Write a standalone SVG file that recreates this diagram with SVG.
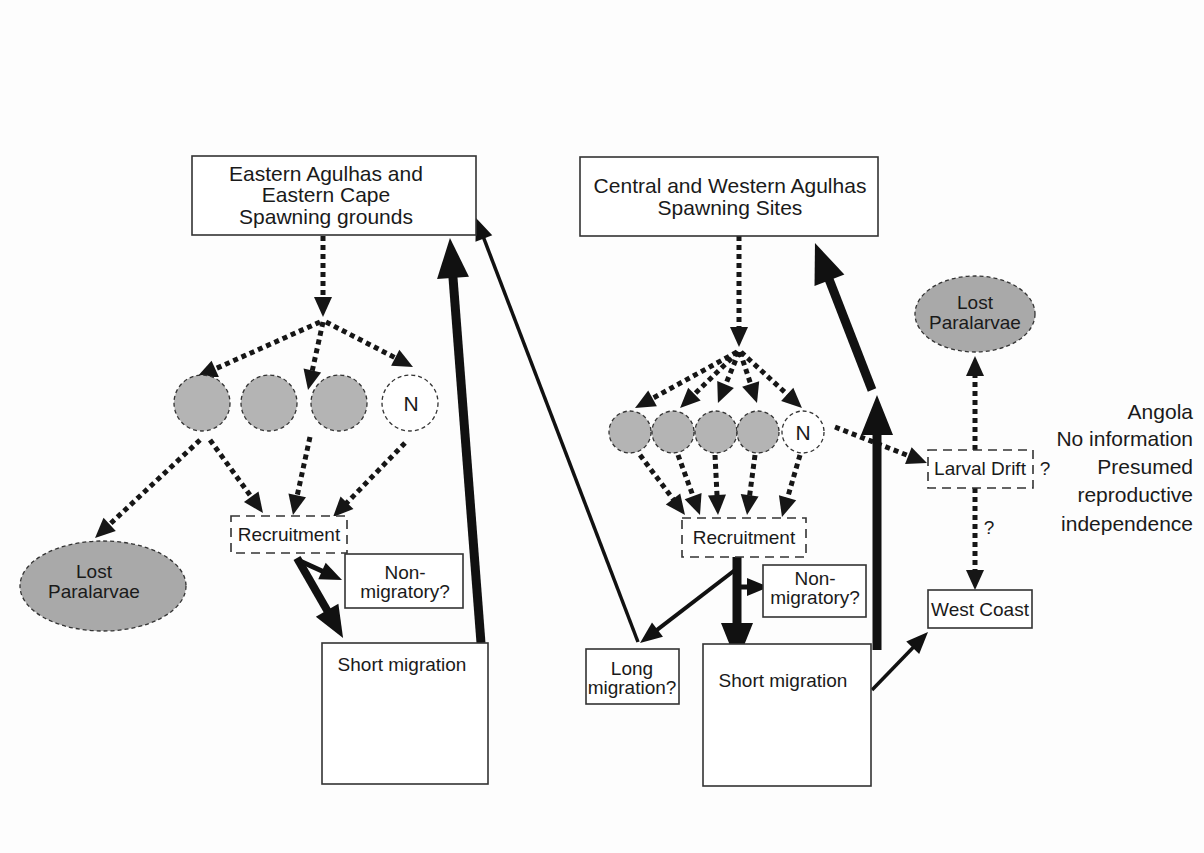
<svg xmlns="http://www.w3.org/2000/svg" width="1204" height="853" viewBox="0 0 1204 853">
<style>
  text { font-family: "Liberation Sans", Arial, sans-serif; fill: #1a1a1a; }
  .t21 { font-size: 21px; text-anchor: middle; }
  .t19 { font-size: 19px; text-anchor: middle; }
  .side { font-size: 21px; text-anchor: end; }
  .box { fill: #ffffff; stroke: #333; stroke-width: 1.6; }
  .dbox { fill: #ffffff; stroke: #333; stroke-width: 1.6; stroke-dasharray: 9 6; }
  .circ { fill: #b4b4b4; stroke: #333; stroke-width: 1.3; stroke-dasharray: 4 3; }
  .ncirc { fill: #ffffff; stroke: #333; stroke-width: 1.3; stroke-dasharray: 4 3; }
  .ell { fill: #a9a9a9; stroke: #333; stroke-width: 1.3; stroke-dasharray: 4 3; }
  .dot { fill: none; stroke: #161616; stroke-width: 5; stroke-dasharray: 5 4; marker-end: url(#hd); }
  .thick { fill: none; stroke: #111; stroke-width: 9; marker-end: url(#hb); }
  .mid { fill: none; stroke: #111; stroke-width: 8; marker-end: url(#hs); }
  .thin { fill: none; stroke: #111; stroke-width: 4; marker-end: url(#hm); }
</style>
<defs>
  <marker id="hd" markerUnits="userSpaceOnUse" markerWidth="20" markerHeight="18" refX="2" refY="9" orient="auto" overflow="visible">
    <path d="M0,0 L20,9 L0,18 z" fill="#161616"/>
  </marker>
  <marker id="hb" markerUnits="userSpaceOnUse" markerWidth="40" markerHeight="32" refX="4" refY="16" orient="auto" overflow="visible">
    <path d="M0,0 L40,16 L0,32 z" fill="#111"/>
  </marker>
  <marker id="hs" markerUnits="userSpaceOnUse" markerWidth="32" markerHeight="26" refX="4" refY="13" orient="auto" overflow="visible">
    <path d="M0,0 L32,13 L0,26 z" fill="#111"/>
  </marker>
  <marker id="hm" markerUnits="userSpaceOnUse" markerWidth="22" markerHeight="18" refX="3" refY="9" orient="auto" overflow="visible">
    <path d="M0,0 L22,9 L0,18 z" fill="#111"/>
  </marker>
</defs>
<rect x="0" y="0" width="1204" height="853" fill="#fdfdfd"/>

<g id="connectors">
  <!-- left dotted -->
  <line class="dot" x1="323" y1="236" x2="323" y2="299"/>
  <line class="dot" x1="320" y1="322" x2="213.4" y2="369.7"/>
  <line class="dot" x1="323" y1="322" x2="311.9" y2="372.4"/>
  <line class="dot" x1="326" y1="322" x2="397" y2="358.7"/>
  <line class="dot" x1="210" y1="440" x2="252.4" y2="498.4"/>
  <line class="dot" x1="310" y1="437" x2="296.8" y2="497.4"/>
  <line class="dot" x1="405" y1="443" x2="345.6" y2="504.1"/>
  <line class="dot" x1="200" y1="440" x2="108.2" y2="525.7"/>
  <!-- right dotted -->
  <line class="dot" x1="739" y1="236" x2="739" y2="329"/>
  <line class="dot" x1="737" y1="352" x2="650.8" y2="399.3"/>
  <line class="dot" x1="738" y1="352" x2="693" y2="395.5"/>
  <line class="dot" x1="739" y1="352" x2="724.8" y2="386.4"/>
  <line class="dot" x1="740" y1="352" x2="751.3" y2="385.9"/>
  <line class="dot" x1="741" y1="352" x2="788.7" y2="395.8"/>
  <line class="dot" x1="640" y1="455" x2="674.2" y2="500.6"/>
  <line class="dot" x1="678" y1="455" x2="693.8" y2="498.1"/>
  <line class="dot" x1="715" y1="455" x2="717.1" y2="497"/>
  <line class="dot" x1="755" y1="455" x2="749.4" y2="497.2"/>
  <line class="dot" x1="800" y1="455" x2="787" y2="499.7"/>
  <line class="dot" x1="835" y1="427" x2="910.2" y2="456.4"/>
  <line class="dot" x1="975" y1="450" x2="975" y2="374"/>
  <line class="dot" x1="975" y1="488" x2="975" y2="572"/>
  <!-- thick solid -->
  <line class="thick" x1="481" y1="643" x2="452.7" y2="273.9"/>
  <line class="thick" x1="737" y1="557" x2="737" y2="627"/>
  <line class="thick" x1="877" y1="650" x2="877" y2="431"/>
  <line class="thick" x1="872" y1="390" x2="828" y2="276.6"/>
  <line class="mid" x1="297" y1="558" x2="329.1" y2="613.7"/>
  <!-- thinner solid -->
  <line class="thin" x1="300" y1="561" x2="324.7" y2="572.2" style="stroke-width:5"/>
  <line class="thin" x1="741" y1="587" x2="750" y2="587" style="stroke-width:5"/>
  <line class="thin" x1="735" y1="570" x2="655.1" y2="631.4"/>
  <line class="thin" x1="638" y1="642" x2="482.8" y2="235.7" style="stroke-width:3.5"/>
  <line class="thin" x1="872" y1="690" x2="914.8" y2="645.7" style="stroke-width:3.5"/>
  <text x="1045" y="475" class="t19">?</text>
  <text x="989" y="534" class="t19">?</text>
</g>

<g id="eastern-spawning">
  <rect class="box" x="192" y="156" width="284" height="79"/>
  <text class="t21" x="326" y="181">Eastern Agulhas and</text>
  <text class="t21" x="326" y="202">Eastern Cape</text>
  <text class="t21" x="326" y="224">Spawning grounds</text>
</g>
<g id="left-c1"><circle class="circ" cx="202" cy="403" r="28"/></g>
<g id="left-c2"><circle class="circ" cx="269" cy="403" r="28"/></g>
<g id="left-c3"><circle class="circ" cx="339" cy="403" r="28"/></g>
<g id="left-n"><circle class="ncirc" cx="410" cy="403" r="28"/><text class="t21" x="411" y="411">N</text></g>
<g id="left-lost">
  <ellipse class="ell" cx="103" cy="586" rx="83" ry="45"/>
  <text class="t19" x="94" y="578">Lost</text>
  <text class="t19" x="94" y="598">Paralarvae</text>
</g>
<g id="left-recruitment">
  <rect class="dbox" x="231" y="516" width="116" height="37"/>
  <text class="t19" x="289" y="541">Recruitment</text>
</g>
<g id="left-nonmig">
  <rect class="box" x="345" y="554" width="118" height="54"/>
  <text class="t19" x="405" y="579">Non-</text>
  <text class="t19" x="405" y="598">migratory?</text>
</g>
<g id="left-short">
  <rect class="box" x="322" y="643" width="166" height="141"/>
  <text class="t19" x="402" y="671">Short migration</text>
</g>

<g id="central-spawning">
  <rect class="box" x="580" y="157" width="298" height="79"/>
  <text class="t21" x="730" y="193">Central and Western Agulhas</text>
  <text class="t21" x="730" y="215">Spawning Sites</text>
</g>
<g id="right-c1"><circle class="circ" cx="630" cy="432" r="21"/></g>
<g id="right-c2"><circle class="circ" cx="673" cy="432" r="21"/></g>
<g id="right-c3"><circle class="circ" cx="716" cy="432" r="21"/></g>
<g id="right-c4"><circle class="circ" cx="758" cy="432" r="21"/></g>
<g id="right-n"><circle class="ncirc" cx="803" cy="432" r="21"/><text class="t21" x="803" y="440">N</text></g>
<g id="right-recruitment">
  <rect class="dbox" x="682" y="518" width="124" height="39"/>
  <text class="t19" x="744" y="544">Recruitment</text>
</g>
<g id="right-nonmig">
  <rect class="box" x="763" y="565" width="103" height="52"/>
  <text class="t19" x="815" y="585">Non-</text>
  <text class="t19" x="815" y="604">migratory?</text>
</g>
<g id="long-mig">
  <rect class="box" x="586" y="649" width="93" height="55"/>
  <text class="t19" x="632" y="675">Long</text>
  <text class="t19" x="632" y="694">migration?</text>
</g>
<g id="right-short">
  <rect class="box" x="703" y="644" width="168" height="142"/>
  <text class="t19" x="783" y="687">Short migration</text>
</g>
<g id="larval-drift">
  <rect class="dbox" x="928" y="450" width="105" height="38"/>
  <text class="t19" x="980" y="475">Larval Drift</text>
</g>
<g id="right-lost">
  <ellipse class="ell" cx="975" cy="314" rx="60" ry="38"/>
  <text class="t19" x="975" y="309">Lost</text>
  <text class="t19" x="975" y="329">Paralarvae</text>
</g>
<g id="west-coast">
  <rect class="box" x="928" y="590" width="104" height="38"/>
  <text class="t19" x="980" y="616">West Coast</text>
</g>
<g id="angola-note">
  <text class="side" x="1193" y="419">Angola</text>
  <text class="side" x="1193" y="446">No information</text>
  <text class="side" x="1193" y="474">Presumed</text>
  <text class="side" x="1193" y="502">reproductive</text>
  <text class="side" x="1193" y="531">independence</text>
</g>
</svg>
